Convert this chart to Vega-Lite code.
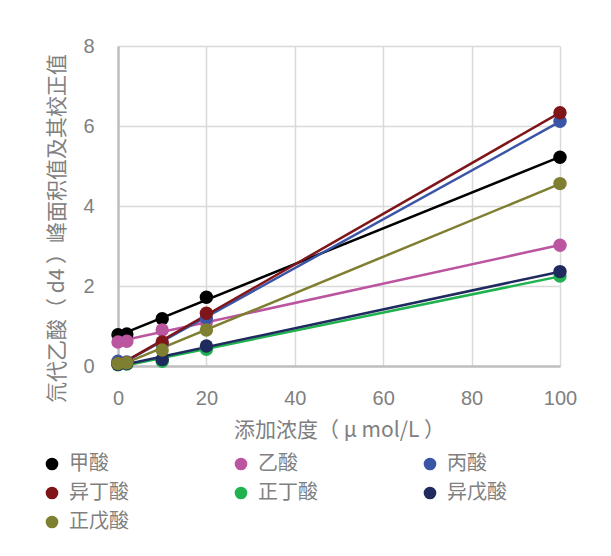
{
  "$schema": "https://vega.github.io/schema/vega-lite/v6.json",
  "autosize": {"type": "none"},
  "width": 442,
  "height": 320,
  "padding": {"left": 118, "top": 46, "right": 51, "bottom": 190},
  "background": "white",
  "config": {
    "font": "Liberation Sans, Noto Sans CJK SC",
    "view": {"stroke": null}
  },
  "data": {
    "values": [
      {"acid": "甲酸", "x": 0, "y": 0.78},
      {"acid": "甲酸", "x": 2, "y": 0.8},
      {"acid": "甲酸", "x": 10, "y": 1.18},
      {"acid": "甲酸", "x": 20, "y": 1.72},
      {"acid": "甲酸", "x": 100, "y": 5.22},
      {"acid": "乙酸", "x": 0, "y": 0.6},
      {"acid": "乙酸", "x": 2, "y": 0.62},
      {"acid": "乙酸", "x": 10, "y": 0.9},
      {"acid": "乙酸", "x": 20, "y": 1.1},
      {"acid": "乙酸", "x": 100, "y": 3.02},
      {"acid": "丙酸", "x": 0, "y": 0.12},
      {"acid": "丙酸", "x": 2, "y": 0.1},
      {"acid": "丙酸", "x": 10, "y": 0.55},
      {"acid": "丙酸", "x": 20, "y": 1.2},
      {"acid": "丙酸", "x": 100, "y": 6.12},
      {"acid": "异丁酸", "x": 0, "y": 0.06},
      {"acid": "异丁酸", "x": 2, "y": 0.08},
      {"acid": "异丁酸", "x": 10, "y": 0.6},
      {"acid": "异丁酸", "x": 20, "y": 1.32},
      {"acid": "异丁酸", "x": 100, "y": 6.33},
      {"acid": "正丁酸", "x": 0, "y": 0.03},
      {"acid": "正丁酸", "x": 2, "y": 0.05},
      {"acid": "正丁酸", "x": 10, "y": 0.12},
      {"acid": "正丁酸", "x": 20, "y": 0.42},
      {"acid": "正丁酸", "x": 100, "y": 2.25},
      {"acid": "异戊酸", "x": 0, "y": 0.04},
      {"acid": "异戊酸", "x": 2, "y": 0.06},
      {"acid": "异戊酸", "x": 10, "y": 0.16},
      {"acid": "异戊酸", "x": 20, "y": 0.5},
      {"acid": "异戊酸", "x": 100, "y": 2.36},
      {"acid": "正戊酸", "x": 0, "y": 0.06},
      {"acid": "正戊酸", "x": 2, "y": 0.08},
      {"acid": "正戊酸", "x": 10, "y": 0.4},
      {"acid": "正戊酸", "x": 20, "y": 0.9},
      {"acid": "正戊酸", "x": 100, "y": 4.56}
    ]
  },
  "encoding": {
    "x": {
      "field": "x", "type": "quantitative",
      "scale": {"domain": [0, 100], "nice": false},
      "axis": {
        "title": "添加浓度（ μ mol/L ）",
        "values": [0, 20, 40, 60, 80, 100],
        "grid": true, "gridColor": "#d9d9d9", "gridWidth": 1.5,
        "domainColor": "#bfbfbf", "domainWidth": 2.5,
        "ticks": false, "labelPadding": 22, "labelFontSize": 20, "labelFlush": false,
        "labelColor": "#808080", "labelFont": "Liberation Sans",
        "titleFontSize": 21, "titleColor": "#808080", "titleFontWeight": "normal",
        "titlePadding": 11, "titleFont": "Noto Sans CJK SC"
      }
    },
    "y": {
      "field": "y", "type": "quantitative",
      "scale": {"domain": [0, 8], "nice": false},
      "axis": {
        "title": "氘代乙酸（ d4 ）峰面积值及其校正值",
        "values": [0, 2, 4, 6, 8],
        "grid": true, "gridColor": "#d9d9d9", "gridWidth": 1.5,
        "domainColor": "#bfbfbf", "domainWidth": 2.5,
        "ticks": false, "labelPadding": 24, "labelFontSize": 20, "labelFlush": false,
        "labelColor": "#808080", "labelFont": "Liberation Sans",
        "titleFontSize": 21, "titleColor": "#808080", "titleFontWeight": "normal",
        "titleFont": "Noto Sans CJK SC",
        "titleX": -61, "titleY": 182, "titleAngle": -90,
        "titleAlign": "center", "titleBaseline": "middle"
      }
    },
    "color": {
      "field": "acid", "type": "nominal",
      "scale": {
        "domain": ["甲酸", "乙酸", "丙酸", "异丁酸", "正丁酸", "异戊酸", "正戊酸"],
        "range": ["#000000", "#bb55a0", "#3a55a5", "#7f1518", "#20b24f", "#1f2a5e", "#7f7f32"]
      },
      "legend": {
        "title": null, "orient": "none", "legendX": -76, "legendY": 408,
        "direction": "horizontal", "columns": 3, "columnPadding": 102,
        "rowPadding": 9, "symbolType": "circle", "symbolSize": 160,
        "symbolStrokeWidth": 0, "labelFontSize": 20, "labelColor": "#808080",
        "labelOffset": 7, "labelFont": "Noto Sans CJK SC", "gridAlign": "all"
      }
    }
  },
  "layer": [
    {
      "transform": [
        {"regression": "y", "on": "x", "groupby": ["acid"], "extent": [0, 100]}
      ],
      "mark": {"type": "line", "strokeWidth": 2.5}
    },
    {
      "mark": {"type": "point", "filled": true, "opacity": 1, "size": 180, "shape": "circle"}
    }
  ]
}
